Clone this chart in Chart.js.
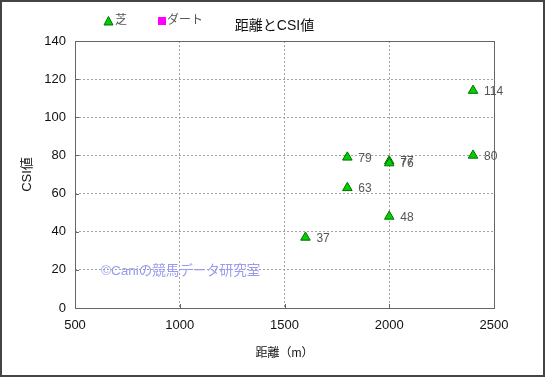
<!DOCTYPE html>
<html><head><meta charset="utf-8">
<script src="https://cdn.jsdelivr.net/npm/chart.js@4"></script>
<style>html,body{margin:0;padding:0;background:#fff}#wrap{width:545px;height:377px}</style>
</head><body><div id="wrap"><canvas id="c" width="545" height="377"></canvas></div>
<script>
const seriesNames = ['芝', 'ダート'];
const turfDistance = [1600, 1800, 1800, 2000, 2000, 2000, 2400, 2400];
const turfCSI = [37, 79, 63, 77, 76, 48, 114, 80];
const dirtDistance = [];
const dirtCSI = [];
const xTickValues = [500, 1000, 1500, 2000, 2500];
const yTickValues = [0, 20, 40, 60, 80, 100, 120, 140];
const chartTitle = '距離とCSI値';
const xTitle = '距離（m）';
const yTitle = 'CSI値';
const watermark = '©Caniの競馬データ研究室';

const FONT = '"Liberation Sans", Arial, "Noto Sans CJK JP", sans-serif';
const toPts = (xs, ys) => xs.map((x, i) => ({x: x, y: ys[i]}));

const decor = {
  id: 'decor',
  beforeDatasetsDraw(chart) {
    const ctx = chart.ctx;
    const a = chart.chartArea;
    ctx.save();
    ctx.font = '13.5px ' + FONT;
    ctx.fillStyle = '#9a9af0';
    ctx.textBaseline = 'middle';
    ctx.textAlign = 'left';
    ctx.fillText(watermark, 101, 271);
    // plot frame
    ctx.strokeStyle = '#666';
    ctx.lineWidth = 1;
    ctx.strokeRect(Math.round(a.left) + 0.5, Math.round(a.top) + 0.5, Math.round(a.right - a.left), Math.round(a.bottom - a.top));
    // small inner ticks on axes
    const xs = chart.scales.x;
    ctx.beginPath();
    xTickValues.forEach(v => {
      const px = Math.round(xs.getPixelForValue(v)) + 0.5;
      ctx.moveTo(px, a.bottom); ctx.lineTo(px, a.bottom - 4);
    });
    const ys = chart.scales.y;
    yTickValues.forEach(v => {
      const py = Math.round(ys.getPixelForValue(v)) + 0.5;
      ctx.moveTo(a.left, py); ctx.lineTo(a.left + 4, py);
    });
    ctx.stroke();
    ctx.restore();
  },
  afterDatasetsDraw(chart) {
    const ctx = chart.ctx;
    ctx.save();
    ctx.font = '12px ' + FONT;
    ctx.fillStyle = '#555';
    ctx.textBaseline = 'middle';
    ctx.textAlign = 'left';
    chart.data.datasets.forEach((ds, di) => {
      const meta = chart.getDatasetMeta(di);
      meta.data.forEach((el, i) => {
        ctx.fillText(String(ds.data[i].y), el.x + 11, el.y + 1);
      });
    });
    // legend
    const ds0 = chart.data.datasets[0], ds1 = chart.data.datasets[1];
    ctx.fillStyle = ds0.backgroundColor;
    ctx.strokeStyle = ds0.borderColor;
    ctx.beginPath();
    ctx.moveTo(108.5, 16.5); ctx.lineTo(113, 25); ctx.lineTo(104, 25); ctx.closePath();
    ctx.fill(); ctx.stroke();
    ctx.fillStyle = '#555';
    ctx.font = '12px ' + FONT;
    ctx.fillText(seriesNames[0], 115, 21);
    ctx.fillStyle = ds1.backgroundColor;
    ctx.fillRect(158, 17, 8, 8);
    ctx.fillStyle = '#555';
    ctx.fillText(seriesNames[1], 167, 21);
    // title
    ctx.fillStyle = '#111';
    ctx.font = '14px ' + FONT;
    ctx.textAlign = 'center';
    ctx.fillText(chartTitle, 274.5, 26);
    // outer border
    ctx.strokeStyle = '#444';
    ctx.lineWidth = 2;
    ctx.strokeRect(1, 1, 543, 375);
    ctx.restore();
  }
};

new Chart(document.getElementById('c'), {
  type: 'scatter',
  data: {
    datasets: [
      {label: seriesNames[0], data: toPts(turfDistance, turfCSI), pointStyle: 'triangle', pointRadius: 5.5, pointHoverRadius: 5.5,
       backgroundColor: '#00d000', borderColor: '#007000', borderWidth: 1},
      {label: seriesNames[1], data: toPts(dirtDistance, dirtCSI), pointStyle: 'rect', pointRadius: 5,
       backgroundColor: '#ff00ff', borderColor: '#ff00ff', borderWidth: 1}
    ]
  },
  options: {
    responsive: false,
    animation: false,
    devicePixelRatio: 1,
    events: [],
    layout: {padding: {top: 41, right: 51, left: 0, bottom: 0}},
    plugins: {legend: {display: false}, title: {display: false}, tooltip: {enabled: false}},
    scales: {
      x: {
        type: 'linear', min: 500, max: 2500,
        afterBuildTicks: s => { s.ticks = xTickValues.map(v => ({value: v})); },
        afterFit: s => { s.height = 69; },
        grid: {color: '#a0a0a0', drawTicks: false},
        border: {display: false, dash: [2, 2]},
        ticks: {color: '#111', font: {size: 13, family: FONT}, padding: 10, maxRotation: 0, callback: v => String(v)},
        title: {display: true, text: xTitle, color: '#111', font: {size: 12, family: FONT}, padding: {top: 0, bottom: 16}}
      },
      y: {
        type: 'linear', min: 0, max: 140,
        afterBuildTicks: s => { s.ticks = yTickValues.map(v => ({value: v})); },
        afterFit: s => { s.width = 75; },
        grid: {color: '#a0a0a0', drawTicks: false},
        border: {display: false, dash: [2, 2]},
        ticks: {color: '#111', font: {size: 13, family: FONT}, padding: 9, callback: v => String(v)},
        title: {display: true, text: yTitle, color: '#111', font: {size: 13, family: FONT}, padding: {top: 20, bottom: 0}}
      }
    }
  },
  plugins: [decor]
});
</script></body></html>
